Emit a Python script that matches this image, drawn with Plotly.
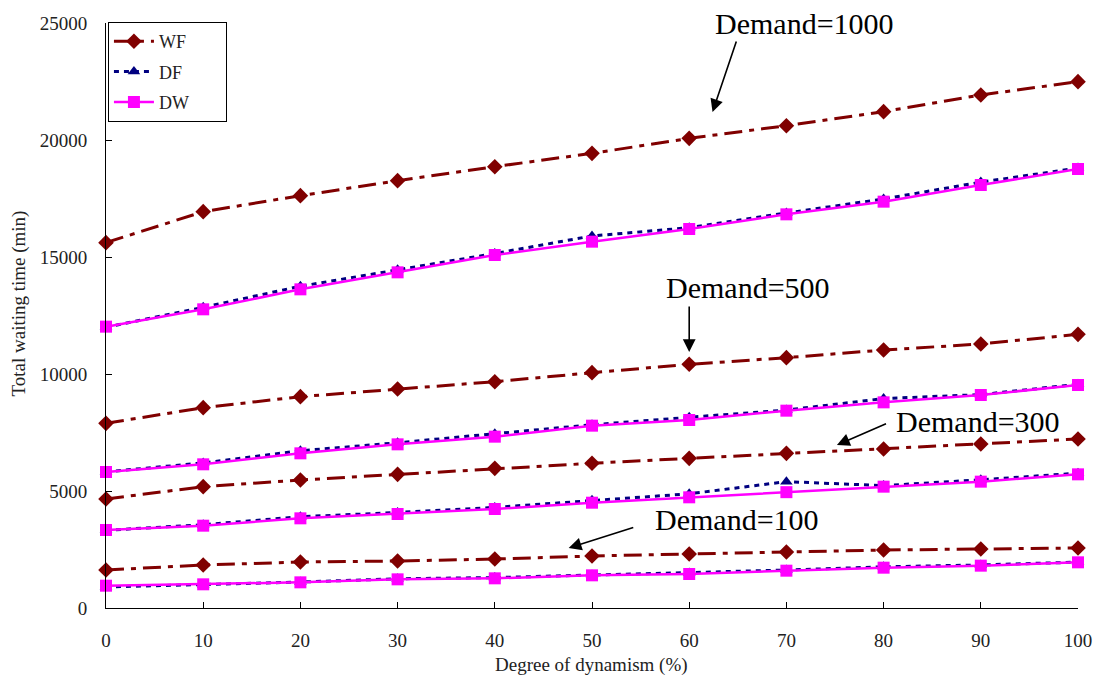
import plotly.graph_objects as go

x_vals = [0, 10, 20, 30, 40, 50, 60, 70, 80, 90, 100]

wf_100 = [1624, 1838, 1966, 2009, 2094, 2222, 2308, 2393, 2479, 2521, 2564]
df_100 = [900, 990, 1110, 1250, 1300, 1410, 1500, 1620, 1760, 1840, 1960]
dw_100 = [953, 1012, 1097, 1225, 1268, 1396, 1453, 1595, 1723, 1809, 1952]

wf_300 = [4658, 5185, 5470, 5712, 5969, 6183, 6396, 6610, 6795, 7009, 7222]
df_300 = [3320, 3560, 3900, 4080, 4300, 4600, 4880, 5400, 5230, 5480, 5760]
dw_300 = [3333, 3518, 3832, 4017, 4231, 4500, 4730, 4950, 5185, 5399, 5712]

wf_500 = [7892, 8561, 9031, 9359, 9672, 10057, 10414, 10698, 11026, 11282, 11695]
df_500 = [5820, 6200, 6720, 7060, 7450, 7830, 8150, 8460, 8950, 9120, 9560]
dw_500 = [5812, 6140, 6610, 6994, 7322, 7792, 8034, 8433, 8789, 9103, 9530]

wf_1000 = [15613, 16937, 17621, 18262, 18860, 19430, 20071, 20612, 21211, 21923, 22493]
df_1000 = [12000, 12850, 13750, 14450, 15150, 15900, 16250, 16880, 17480, 18200, 18800]
dw_1000 = [12023, 12764, 13618, 14345, 15085, 15655, 16197, 16823, 17365, 18077, 18761]

series_names = ["DF", "DW", "WF"]

FONT = "Liberation Serif"
WF_C = "#800000"
DF_C = "#000080"
DW_C = "#FF00FF"

fig = go.Figure()

groups = [
    (df_100, df_300, df_500, df_1000),
    (dw_100, dw_300, dw_500, dw_1000),
    (wf_100, wf_300, wf_500, wf_1000),
]

styles = {
    "DF": dict(line=dict(color=DF_C, width=3, dash="5px,5px"),
               marker=dict(symbol="triangle-up", size=11, color=DF_C), rank=2),
    "DW": dict(line=dict(color=DW_C, width=2.5),
               marker=dict(symbol="square", size=12, color=DW_C), rank=3),
    "WF": dict(line=dict(color=WF_C, width=3, dash="18px,7px,5px,7px"),
               marker=dict(symbol="diamond", size=12, color=WF_C), rank=1),
}

PAD = "\u00a0" * 7
for name, series in zip(series_names, groups):
    st = styles[name]
    for i, ys in enumerate(series):
        fig.add_trace(go.Scatter(
            x=x_vals, y=ys, mode="lines+markers", name=name + PAD,
            legendgroup=name, showlegend=(i == 0), legendrank=st["rank"],
            line=st["line"], marker=st["marker"], cliponaxis=False,
        ))

ann_font = dict(family=FONT, size=30, color="black")
labels = [
    ("Demand=1000", 71.9, 25000, 62.4, 21197, 64.9, 24274),
    ("Demand=500", 66.1, 13718, 60.0, 10940, 60.0, 12949),
    ("Demand=300", 89.7, 7949, 75.2, 6966, 80.4, 7906),
    ("Demand=100", 64.9, 3761, 47.6, 2564, 54.4, 3462),
]
for text, tx, ty, hx, hy, axx, ayy in labels:
    fig.add_annotation(x=tx, y=ty, xref="x", yref="y", text=text,
                       xanchor="center", yanchor="middle",
                       showarrow=False, font=ann_font)
    fig.add_annotation(x=hx, y=hy, ax=axx, ay=ayy, xref="x", yref="y",
                       axref="x", ayref="y", text="", showarrow=True,
                       arrowhead=2, arrowsize=1.6, arrowwidth=1.6,
                       arrowcolor="black")

fig.add_annotation(text="Total waiting time (min)", xref="paper", yref="paper",
                   x=-0.0905, y=0.5205, textangle=-90, showarrow=False,
                   xanchor="center", yanchor="middle",
                   font=dict(family=FONT, size=19, color="#222"))
fig.add_annotation(text="Degree of dynamism (%)", xref="paper", yref="paper",
                   x=0.499, y=-0.098, showarrow=False,
                   xanchor="center", yanchor="middle",
                   font=dict(family=FONT, size=19, color="#222"))

fig.update_layout(
    width=1104, height=677,
    margin=dict(l=106, r=26, t=23, b=69),
    plot_bgcolor="white", paper_bgcolor="white",
    font=dict(family=FONT, size=19, color="#222"),
    legend=dict(x=0.002, y=1.0017, xanchor="left", yanchor="top",
                bordercolor="black", borderwidth=1, bgcolor="white",
                font=dict(family=FONT, size=18, color="#222"),
                traceorder="grouped", tracegroupgap=4, itemwidth=40),
)
fig.update_xaxes(range=[0, 100], dtick=10, tick0=0, showline=True,
                 linecolor="black", linewidth=1, ticks="inside", ticklen=6,
                 tickcolor="black", showgrid=False, zeroline=False,
                 ticklabelstandoff=15)
fig.update_yaxes(range=[0, 25000], dtick=5000, tick0=0, tickformat="d",
                 showline=True, linecolor="black", linewidth=1,
                 ticks="inside", ticklen=6, tickcolor="black",
                 showgrid=False, zeroline=False, ticklabelstandoff=14)

fig.write_html("out.html")
